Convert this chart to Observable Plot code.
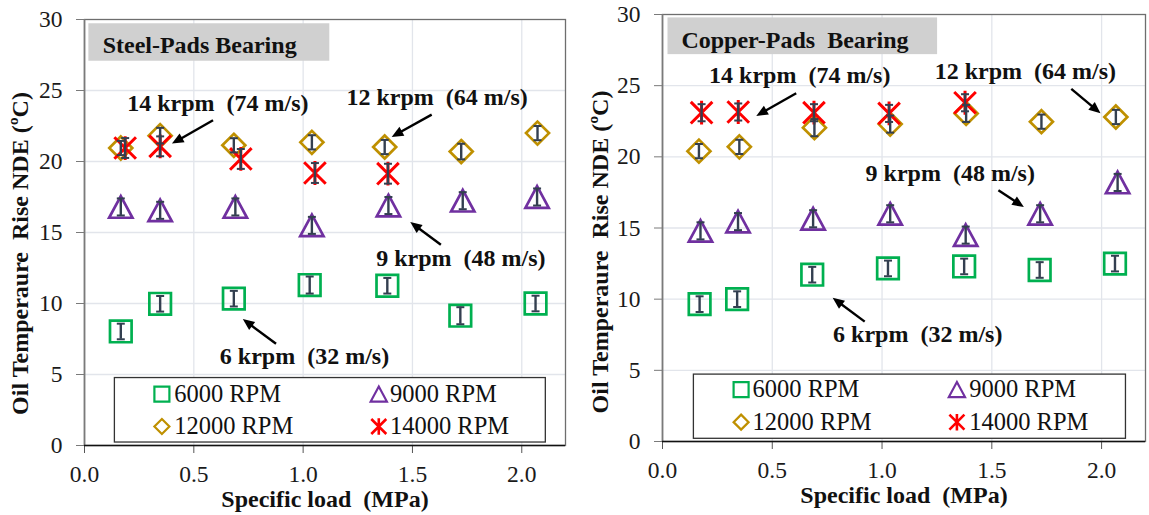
<!DOCTYPE html>
<html><head><meta charset="utf-8">
<script src="https://cdn.jsdelivr.net/npm/d3@7"></script>
<script src="https://cdn.jsdelivr.net/npm/@observablehq/plot@0.6"></script>
<style>
body{margin:0;background:#fff;}
#wrap{position:relative;width:1149px;height:515px;overflow:hidden;background:#fff;}
.panel{position:absolute;top:0;}
#wrap svg, #wrap svg text{font-family:"Liberation Serif","Times New Roman",serif !important;}
</style></head><body><div id="wrap"></div>
<script>
// ---------- data ----------
const xTicks = [0, 0.5, 1.0, 1.5, 2.0];
const yTicks = [0, 5, 10, 15, 20, 25, 30];
const seriesNames = ["6000 RPM", "9000 RPM", "12000 RPM", "14000 RPM"];
const panelTitles = ["Steel-Pads Bearing", "Copper-Pads \u00a0Bearing"];
const noteTexts = ["14 krpm \u00a0(74 m/s)", "12 krpm \u00a0(64 m/s)", "9 krpm \u00a0(48 m/s)", "6 krpm \u00a0(32 m/s)"];
const xLabel = "Specific load \u00a0(MPa)";
const yLabel = "Oil Temperaure \u00a0Rise NDE (ºC)";

// Steel-pads bearing
const steelLoad6000 = [0.166, 0.346, 0.683, 1.030, 1.385, 1.719, 2.063];
const steelRise6000 = [8.03, 9.98, 10.34, 11.30, 11.25, 9.14, 10.00];
const steelErr6000  = [0.55, 0.55, 0.55, 0.6, 0.55, 0.6, 0.55];
const steelLoad9000 = [0.166, 0.346, 0.690, 1.040, 1.390, 1.730, 2.070];
const steelRise9000 = [16.80, 16.56, 16.80, 15.50, 16.90, 17.24, 17.50];
const steelErr9000  = [0.6, 0.6, 0.6, 0.6, 0.6, 0.6, 0.6];
const steelLoad12000 = [0.166, 0.346, 0.683, 1.040, 1.373, 1.723, 2.072];
const steelRise12000 = [20.95, 21.82, 21.14, 21.35, 21.02, 20.70, 22.00];
const steelErr12000  = [0.5, 0.55, 0.5, 0.5, 0.5, 0.55, 0.5];
const steelLoad14000 = [0.186, 0.346, 0.715, 1.054, 1.388];
const steelRise14000 = [20.95, 21.07, 20.18, 19.19, 19.14];
const steelErr14000  = [0.7, 0.7, 0.7, 0.7, 0.7];

// Copper-pads bearing
const copperLoad6000 = [0.169, 0.340, 0.682, 1.027, 1.374, 1.718, 2.061];
const copperRise6000 = [9.65, 10.00, 11.72, 12.16, 12.30, 12.05, 12.50];
const copperErr6000  = [0.55, 0.55, 0.55, 0.55, 0.55, 0.55, 0.55];
const copperLoad9000 = [0.173, 0.344, 0.686, 1.037, 1.381, 1.720, 2.073];
const copperRise9000 = [14.80, 15.45, 15.65, 16.00, 14.50, 16.00, 18.20];
const copperErr9000  = [0.6, 0.6, 0.6, 0.6, 0.6, 0.6, 0.6];
const copperLoad12000 = [0.166, 0.350, 0.692, 1.037, 1.383, 1.726, 2.065];
const copperRise12000 = [20.40, 20.70, 22.05, 22.30, 23.05, 22.47, 22.80];
const copperErr12000  = [0.5, 0.5, 0.6, 0.6, 0.6, 0.5, 0.5];
const copperLoad14000 = [0.178, 0.345, 0.690, 1.032, 1.378];
const copperRise14000 = [23.10, 23.15, 23.10, 23.05, 23.80];
const copperErr14000  = [0.6, 0.6, 0.6, 0.6, 0.6];

// ---------- styling / layout ----------
const FONT = "Liberation Serif";
const colors = ["#00b050", "#7030a0", "#bf9000", "#ff0000"];
const errColor = "#333f50";

const symSquare = {draw(c, s){const r=Math.sqrt(s/Math.PI); c.moveTo(-r,-r); c.lineTo(r,-r); c.lineTo(r,r); c.lineTo(-r,r); c.closePath();}};
const symTri = {draw(c, s){const r=Math.sqrt(s/Math.PI); const w=r*1.08; c.moveTo(0,-r); c.lineTo(w,r); c.lineTo(-w,r); c.closePath();}};
const symDiamond = {draw(c, s){const r=Math.sqrt(s/Math.PI); c.moveTo(0,-r); c.lineTo(r,0); c.lineTo(0,r); c.lineTo(-r,0); c.closePath();}};
const symStar = {draw(c, s){const r=Math.sqrt(s/Math.PI); c.moveTo(-r,-r); c.lineTo(r,r); c.moveTo(r,-r); c.lineTo(-r,r); c.moveTo(0,-r*1.1); c.lineTo(0,r*1.1);}};
const symCap = {draw(c, s){const r=Math.sqrt(s/Math.PI); c.moveTo(-r,0); c.lineTo(r,0);}};
const symHead = {draw(c, s){const r=Math.sqrt(s/Math.PI); c.moveTo(0,0); c.lineTo(-2.2*r,-0.95*r); c.lineTo(-2.2*r,0.95*r); c.closePath();}};
const symbols = [symSquare, symTri, symDiamond, symStar];
const symR = [10.8, 10.8, 11.5, 10.8];
const legR = [7.5, 7.5, 7.5, 7.5];

const panels = [
  {
    title: panelTitles[0],
    loads: [steelLoad6000, steelLoad9000, steelLoad12000, steelLoad14000],
    rises: [steelRise6000, steelRise9000, steelRise12000, steelRise14000],
    errs: [steelErr6000, steelErr9000, steelErr12000, steelErr14000],
    left: 0, width: 580, mt: 19, mb: 70, ml: 84, mr: 15,
    titleBox: {x1: 0.02, x2: 1.122, y1: 27.06, y2: 29.7, tx: 0.083, ty: 28.17},
    notes: [
      {tx: 0.195, ty: 24.1, x1: 0.588, y1: 22.9, x2: 0.400, y2: 21.26},
      {tx: 1.198, ty: 24.5, x1: 1.588, y1: 23.3, x2: 1.405, y2: 21.73},
      {tx: 1.334, ty: 13.2, x1: 1.630, y1: 14.14, x2: 1.490, y2: 15.74},
      {tx: 0.619, ty: 6.27, x1: 0.876, y1: 7.16, x2: 0.724, y2: 8.9}
    ],
    legend: {x1: 0.139, x2: 2.11, y1: 0.21, y2: 4.75, sx: [0.354, 1.346], tx: [0.41, 1.397], ry: [3.62, 1.34]},
    yLabelDx: -64, yLabelDy: 21
  },
  {
    title: panelTitles[1],
    loads: [copperLoad6000, copperLoad9000, copperLoad12000, copperLoad14000],
    rises: [copperRise6000, copperRise9000, copperRise12000, copperRise14000],
    errs: [copperErr6000, copperErr9000, copperErr12000, copperErr14000],
    left: 580, width: 569, mt: 14, mb: 74, ml: 82, mr: 4,
    titleBox: {x1: 0.025, x2: 1.253, y1: 27.18, y2: 29.76, tx: 0.086, ty: 28.19},
    notes: [
      {tx: 0.212, ty: 25.76, x1: 0.609, y1: 24.47, x2: 0.427, y2: 22.87},
      {tx: 1.240, ty: 26.0, x1: 1.862, y1: 24.78, x2: 1.995, y2: 23.06},
      {tx: 0.925, ty: 18.87, x1: 1.530, y1: 17.65, x2: 1.646, y2: 16.47},
      {tx: 0.777, ty: 7.53, x1: 0.921, y1: 8.42, x2: 0.775, y2: 10.1}
    ],
    legend: {x1: 0.143, x2: 2.111, y1: 0.19, y2: 4.7, sx: [0.358, 1.341], tx: [0.41, 1.397], ry: [3.65, 1.36]},
    yLabelDx: -62, yLabelDy: 24
  }
];

const H = 515;
const wrap = document.getElementById("wrap");

for (const p of panels) {
  const kx = (p.width - p.ml - p.mr) / 2.2;
  const ky = (H - p.mt - p.mb) / 30;

  const pts = [];
  p.loads.forEach((L, si) => L.forEach((x, i) => pts.push({s: si, x, y: p.rises[si][i], e: p.errs[si][i]})));

  const T = {fontFamily: FONT, fill: "#111"};
  const marks = [
    Plot.ruleX([0.5, 1.0, 1.5, 2.0], {stroke: "#e2e5eb", strokeWidth: 1.3}),
    Plot.ruleY([5, 10, 15, 20, 25], {stroke: "#e2e5eb", strokeWidth: 1.3}),
    Plot.frame({stroke: "#6e6e6e", strokeWidth: 1.3}),
    Plot.rect([p.titleBox], {x1: "x1", x2: "x2", y1: "y1", y2: "y2", fill: "#d0d0d0"}),
    Plot.text([p.title], {...T, x: p.titleBox.tx, y: p.titleBox.ty, text: d => d, textAnchor: "start", fontWeight: "bold", fontSize: 24})
  ];
  for (let si = 0; si < 4; si++) {
    marks.push(Plot.dot(pts.filter(d => d.s === si), {x: "x", y: "y", symbol: symbols[si], r: symR[si], stroke: colors[si], strokeWidth: si === 3 ? 3 : 2.7, fill: "none"}));
  }
  marks.push(Plot.ruleX(pts, {x: "x", y1: d => d.y - d.e, y2: d => d.y + d.e, stroke: errColor, strokeWidth: 2.4}));
  marks.push(Plot.dot(pts, {x: "x", y: d => d.y - d.e, symbol: symCap, r: 4, stroke: errColor, strokeWidth: 2}));
  marks.push(Plot.dot(pts, {x: "x", y: d => d.y + d.e, symbol: symCap, r: 4, stroke: errColor, strokeWidth: 2}));

  const notes = p.notes.map((n, i) => {
    const dxp = (n.x2 - n.x1) * kx, dyp = -(n.y2 - n.y1) * ky;
    const len = Math.hypot(dxp, dyp);
    const f = (len - 10) / len;
    return {...n, text: noteTexts[i], sx: n.x1 + (n.x2 - n.x1) * f, sy: n.y1 + (n.y2 - n.y1) * f, ang: Math.atan2(dyp, dxp) * 180 / Math.PI};
  });
  marks.push(Plot.text(notes, {...T, x: "tx", y: "ty", text: "text", textAnchor: "start", fontWeight: "bold", fontSize: 24}));
  marks.push(Plot.link(notes, {x1: "x1", y1: "y1", x2: "sx", y2: "sy", stroke: "#000", strokeWidth: 2.4}));
  marks.push(Plot.dot(notes, {x: "x2", y: "y2", symbol: symHead, r: 5.3, fill: "#000", stroke: "none", rotate: "ang"}));

  const lg = p.legend;
  marks.push(Plot.rect([lg], {x1: "x1", x2: "x2", y1: "y1", y2: "y2", fill: "#fff", stroke: "#333", strokeWidth: 1.3}));
  const legItems = seriesNames.map((name, i) => ({name, i, sx: lg.sx[i % 2], tx: lg.tx[i % 2], y: lg.ry[Math.floor(i / 2)]}));
  for (const it of legItems) {
    marks.push(Plot.dot([it], {x: "sx", y: "y", symbol: symbols[it.i], r: legR[it.i], stroke: colors[it.i], strokeWidth: it.i === 3 ? 2.6 : 2.2, fill: "none"}));
  }
  marks.push(Plot.text(legItems, {...T, x: "tx", y: "y", text: "name", textAnchor: "start", fontSize: 24.5}));

  marks.push(Plot.ruleX([0], {stroke: "#7a7a7a", strokeWidth: 1.6}));
  marks.push(Plot.axisY({ticks: yTicks, tickSize: 8, tickPadding: 14, fontSize: 23.5, fontFamily: FONT, stroke: "#7a7a7a", fill: "#1a1a1a", label: null}));
  marks.push(Plot.axisX({ticks: xTicks, tickFormat: d3.format(".1f"), tickSize: 8, tickPadding: 12, fontSize: 23.5, fontFamily: FONT, stroke: "#555", fill: "#1a1a1a", label: null}));
  marks.push(Plot.ruleY([0], {stroke: "#111", strokeWidth: 1.6}));
  marks.push(Plot.text([xLabel], {...T, frameAnchor: "bottom", text: d => d, dy: 54, lineAnchor: "middle", fontWeight: "bold", fontSize: 24}));
  marks.push(Plot.text([yLabel], {...T, frameAnchor: "left", text: d => d, rotate: -90, dx: p.yLabelDx, dy: p.yLabelDy, lineAnchor: "middle", textAnchor: "middle", fontWeight: "bold", fontSize: 24}));

  const chart = Plot.plot({
    width: p.width, height: H,
    marginTop: p.mt, marginBottom: p.mb, marginLeft: p.ml, marginRight: p.mr,
    x: {domain: [0, 2.2]},
    y: {domain: [0, 30]},
    style: {fontFamily: FONT, background: "transparent", overflow: "visible"},
    marks
  });
  chart.classList.add("panel");
  chart.style.left = p.left + "px";
  wrap.appendChild(chart);
}
</script></body></html>
